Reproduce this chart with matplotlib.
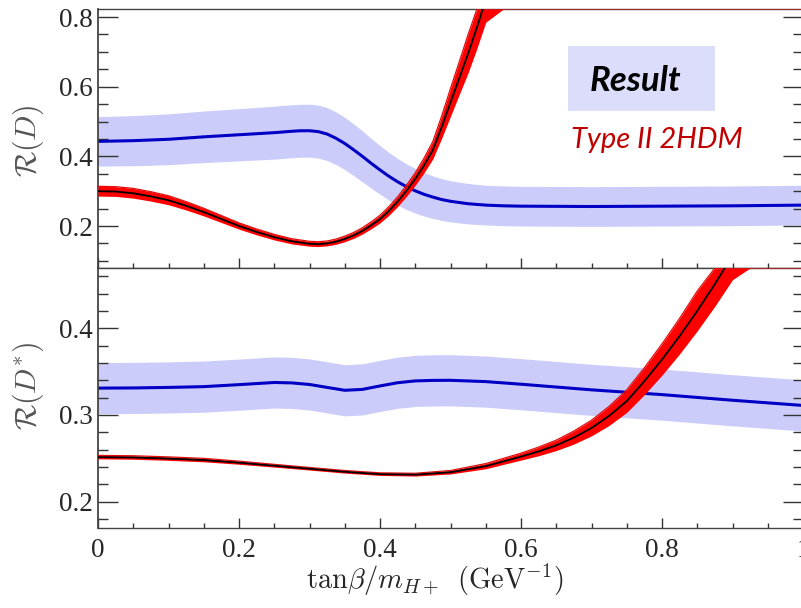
import matplotlib
matplotlib.use("Agg")
import matplotlib.pyplot as plt
from matplotlib.ticker import MultipleLocator, FuncFormatter
from matplotlib.patches import Rectangle
import numpy as np

plt.rcParams["mathtext.fontset"] = "cm"

# ---------------- R(D) panel ----------------
# Type II 2HDM prediction (red band, black central line)
x_rd_th = [0, 0.025, 0.05, 0.075, 0.1, 0.125, 0.15, 0.175, 0.2, 0.225, 0.25, 0.275,
           0.3, 0.3125, 0.325, 0.3375, 0.35, 0.3625, 0.375, 0.3875, 0.4, 0.4125,
           0.425, 0.4375, 0.45, 0.4625, 0.475, 0.4875, 0.5, 0.5125, 0.525, 0.5375,
           0.55, 0.575, 0.6, 0.7, 1.0]
rd_th = [0.300, 0.299, 0.294, 0.285, 0.274, 0.258, 0.240, 0.220, 0.200, 0.183,
         0.168, 0.156, 0.149, 0.148, 0.150, 0.155, 0.163, 0.173, 0.186, 0.202,
         0.220, 0.243, 0.270, 0.301, 0.335, 0.374, 0.418, 0.484, 0.555, 0.625,
         0.695, 0.770, 0.850, 1.000, 1.150, 2.000, 6.000]
rd_th_err = [0.014, 0.014, 0.014, 0.0135, 0.013, 0.012, 0.011, 0.010, 0.009, 0.0085,
             0.008, 0.0075, 0.007, 0.007, 0.007, 0.0075, 0.008, 0.0085, 0.009, 0.010,
             0.011, 0.0125, 0.014, 0.016, 0.018, 0.021, 0.025, 0.032, 0.040, 0.047,
             0.055, 0.060, 0.065, 0.072, 0.080, 0.100, 0.200]

# measured result (blue band)
x_rd_exp = [0, 0.05, 0.1, 0.15, 0.2, 0.25, 0.275, 0.2875, 0.3, 0.3125, 0.325, 0.3375,
            0.35, 0.3625, 0.375, 0.3875, 0.4, 0.4125, 0.425, 0.4375, 0.45, 0.4625,
            0.475, 0.4875, 0.5, 0.525, 0.55, 0.575, 0.6, 0.7, 0.8, 0.9, 1.0]
rd_exp = [0.443, 0.445, 0.449, 0.456, 0.462, 0.468, 0.472, 0.4735, 0.4735, 0.471,
          0.464, 0.452, 0.437, 0.419, 0.400, 0.380, 0.361, 0.343, 0.327, 0.313,
          0.301, 0.291, 0.283, 0.276, 0.271, 0.264, 0.260, 0.258, 0.257, 0.256,
          0.257, 0.258, 0.260]
rd_exp_err = [0.071, 0.072, 0.073, 0.074, 0.075, 0.076, 0.076, 0.076, 0.076, 0.076,
              0.076, 0.0755, 0.075, 0.074, 0.073, 0.0715, 0.070, 0.0685, 0.067,
              0.0655, 0.064, 0.0625, 0.061, 0.060, 0.059, 0.058, 0.057, 0.057,
              0.057, 0.057, 0.057, 0.057, 0.057]

# ---------------- R(D*) panel ----------------
x_rds_th = [0, 0.05, 0.1, 0.15, 0.2, 0.25, 0.3, 0.35, 0.4, 0.45, 0.5, 0.55, 0.6,
            0.625, 0.65, 0.675, 0.7, 0.725, 0.75, 0.775, 0.8, 0.825, 0.85, 0.875,
            0.9, 0.925, 0.95, 1.0]
rds_th = [0.2514, 0.2510, 0.2497, 0.2480, 0.2450, 0.2415, 0.2380, 0.2345, 0.2318,
          0.2312, 0.2340, 0.2410, 0.2520, 0.2580, 0.2650, 0.2740, 0.2850, 0.2990,
          0.3160, 0.3390, 0.3640, 0.3910, 0.4200, 0.4510, 0.4840, 0.5200, 0.5580,
          0.6400]
rds_th_err = [0.002, 0.002, 0.002, 0.002, 0.0018, 0.0016, 0.0015, 0.0015, 0.0015,
              0.0016, 0.002, 0.003, 0.004, 0.005, 0.006, 0.0075, 0.009, 0.011,
              0.013, 0.0155, 0.018, 0.0205, 0.023, 0.0255, 0.028, 0.030, 0.032,
              0.036]

x_rds_exp = [0, 0.05, 0.1, 0.15, 0.2, 0.25, 0.275, 0.3, 0.325, 0.35, 0.375, 0.4,
             0.425, 0.45, 0.475, 0.5, 0.55, 0.6, 0.7, 0.8, 0.9, 1.0]
rds_exp = [0.3310, 0.3312, 0.3318, 0.3327, 0.3350, 0.3375, 0.3370, 0.3352, 0.3318,
           0.3285, 0.3295, 0.3335, 0.3372, 0.3393, 0.3399, 0.3400, 0.3385, 0.3355,
           0.3290, 0.3235, 0.3170, 0.3110]
rds_exp_err = 0.0295

x_ticks = [0, 0.2, 0.4, 0.6, 0.8, 1.0]

W, H = 801, 608


def fx(px):
    return px / W


def fy(py):
    return 1 - py / H


def draw_exp(ax, x, mid, err):
    x = np.asarray(x)
    mid = np.asarray(mid)
    err = np.asarray(err)
    ax.fill_between(x, mid - err, mid + err, color="#ccccfa", lw=0, zorder=1)
    ax.plot(x, mid, color="#0000c4", lw=2.2, zorder=2, solid_joinstyle="round")


def draw_theory(ax, x, mid, err, top):
    x = np.asarray(x)
    mid = np.asarray(mid)
    err = np.asarray(err)
    lo = np.minimum(mid - err, top)
    hi = np.minimum(mid + err, top)
    ax.fill_between(x, lo, hi, color="#ff0000", lw=0, zorder=3)
    # upper edge, it runs along the frame once the band leaves the plot
    ax.plot(x, hi, color="#e01010", lw=0.9, zorder=3)
    ax.plot(x, mid, color="black", lw=1.3, zorder=4, solid_joinstyle="round")


def style_axes(ax, ymin, ymax, ymajor, yminor):
    ax.set_xlim(0, 1)
    ax.set_ylim(ymin, ymax)
    ax.xaxis.set_major_locator(MultipleLocator(0.2))
    ax.xaxis.set_minor_locator(MultipleLocator(0.05))
    ax.yaxis.set_major_locator(MultipleLocator(ymajor))
    ax.yaxis.set_minor_locator(MultipleLocator(yminor))
    ax.tick_params(axis="y", which="major", direction="in", length=14.4,
                   width=1.0, color="#333333", pad=3.6, labelsize=19.5,
                   labelcolor="#262626", right=True)
    ax.tick_params(axis="y", which="minor", direction="in", length=7.2,
                   width=1.0, color="#333333", right=True)
    ax.tick_params(axis="x", which="major", direction="in", length=7.2,
                   width=1.0, color="#333333", pad=7.5, labelsize=19.5,
                   labelcolor="#262626")
    ax.tick_params(axis="x", which="minor", direction="in", length=3.8,
                   width=1.0, color="#333333")
    ax.yaxis.set_major_formatter(FuncFormatter(lambda v, p: "%g" % round(v, 3)))
    ax.xaxis.set_major_formatter(FuncFormatter(lambda v, p: "%g" % round(v, 3)))
    for side in ["left", "bottom", "top", "right"]:
        ax.spines[side].set_color("#444444")
        ax.spines[side].set_linewidth(1.0)
    ax.spines["left"].set_linewidth(1.3)


fig = plt.figure(figsize=(8.01, 6.08), dpi=100)
ax_d = fig.add_axes([fx(98), fy(268), fx(803) - fx(98), fy(9) - fy(268)])
ax_ds = fig.add_axes([fx(98), fy(528), fx(803) - fx(98), fy(268) - fy(528)])

rd_top = 0.823
rds_top = 0.4695

draw_exp(ax_d, x_rd_exp, rd_exp, rd_exp_err)
draw_theory(ax_d, x_rd_th, rd_th, rd_th_err, rd_top)
draw_exp(ax_ds, x_rds_exp, rds_exp, rds_exp_err)
draw_theory(ax_ds, x_rds_th, rds_th, rds_th_err, rds_top)

style_axes(ax_d, 0.0795, rd_top, 0.2, 0.05)
style_axes(ax_ds, 0.1697, rds_top, 0.1, 0.02)
ax_d.set_yticks([0.2, 0.4, 0.6, 0.8])
ax_ds.set_yticks([0.2, 0.3, 0.4])
ax_ds.set_xticks(x_ticks)
for lab in ax_d.get_yticklabels() + ax_ds.get_yticklabels() + ax_ds.get_xticklabels():
    lab.set_fontfamily("Liberation Serif")
ax_d.tick_params(axis="x", labelbottom=False)

ax_d.set_ylabel(r"$\mathcal{R}(D)$", fontsize=21.5, color="#555555")
ax_ds.set_ylabel(r"$\mathcal{R}(D^{*})$", fontsize=21.5, color="#555555")
# the label anchor sits on its right-hand side
ax_d.yaxis.set_label_coords(-(98 - 46) / 705, 0.49)
ax_ds.yaxis.set_label_coords(-(98 - 46) / 705, 0.545)

fig.text(fx(435), fy(580), r"$\mathrm{tan}\beta/m_{H+}\;\;(\mathrm{GeV}^{-1})$",
         fontsize=20.5, color="#262626", ha="center", va="center")

# annotation box in the upper panel
fig.patches.append(Rectangle((fx(568), fy(111)), fx(715) - fx(568), fy(46) - fy(111),
                             transform=fig.transFigure, facecolor="#dcdcfb",
                             edgecolor="none", zorder=5))
fig.text(fx(635), fy(91), "Result", fontsize=25, fontfamily="Lato",
         fontweight="bold", fontstyle="italic", color="black",
         ha="center", va="baseline", zorder=6)
fig.text(fx(657), fy(148), "Type II 2HDM", fontsize=21, fontfamily="Lato",
         fontstyle="italic", color="#c00000", ha="center", va="baseline", zorder=6)

fig.savefig("out.png", dpi=100)
